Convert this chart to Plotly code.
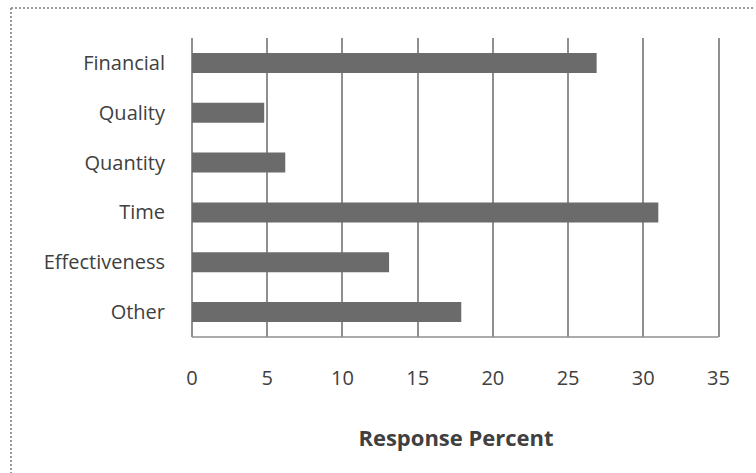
import plotly.graph_objects as go

categories = ["Financial", "Quality", "Quantity", "Time", "Effectiveness", "Other"]
values = [26.9, 4.8, 6.2, 31.0, 13.1, 17.9]
x_ticks = [0, 5, 10, 15, 20, 25, 30, 35]
x_title = "Response Percent"

BAR = "#6b6b6b"
GRID = "#8f8f8f"
TXT = "#404040"
FONT = "Open Sans"

fig = go.Figure(go.Bar(
    x=values, y=categories, orientation="h",
    marker=dict(color=BAR, line=dict(width=0)),
    width=0.4,
))

XMAX = 35.1
L, T, B = 192, 38, 136
W, H = 756, 473
R = round(W - L - (718 - L) * XMAX / 35)
pw, ph = W - L - R, H - T - B

def px(x):
    return (x - L) / pw

def py(y):
    return (H - B - y) / ph

fig.update_layout(
    width=W, height=H,
    margin=dict(l=L, r=R, t=T, b=B, pad=0),
    paper_bgcolor="white", plot_bgcolor="white",
    showlegend=False,
    font=dict(family=FONT, color=TXT, size=20),
    xaxis=dict(
        range=[0, XMAX], tickvals=x_ticks, ticktext=[str(v) for v in x_ticks],
        showgrid=True, gridcolor=GRID, gridwidth=1.5,
        zeroline=True, zerolinecolor=GRID, zerolinewidth=1.5,
        showline=False,
        ticks="", ticklabelstandoff=27,
        tickfont=dict(size=20, color=TXT),
        title=dict(text="<b>" + x_title + "</b>", font=dict(size=22, color=TXT), standoff=40),
        fixedrange=True,
    ),
    yaxis=dict(
        categoryorder="array", categoryarray=categories, autorange="reversed",
        showgrid=False, zeroline=False, showline=False,
        ticks="", ticklabelstandoff=26,
        tickfont=dict(size=20, color=TXT),
        fixedrange=True,
    ),
    shapes=[
        dict(type="line", xref="x", yref="paper",
             x0=0, x1=35, y0=0, y1=0,
             line=dict(color=GRID, width=1.5)),
        dict(type="line", xref="paper", yref="paper",
             x0=px(11), x1=px(11), y0=py(8), y1=py(H + 2),
             line=dict(color="#9a9a9a", width=2, dash="2px,2px")),
        dict(type="line", xref="paper", yref="paper",
             x0=px(11), x1=px(753), y0=py(8), y1=py(8),
             line=dict(color="#9a9a9a", width=2, dash="2px,2px")),
    ],
)

fig.write_html("out.html", config={"displayModeBar": False})
